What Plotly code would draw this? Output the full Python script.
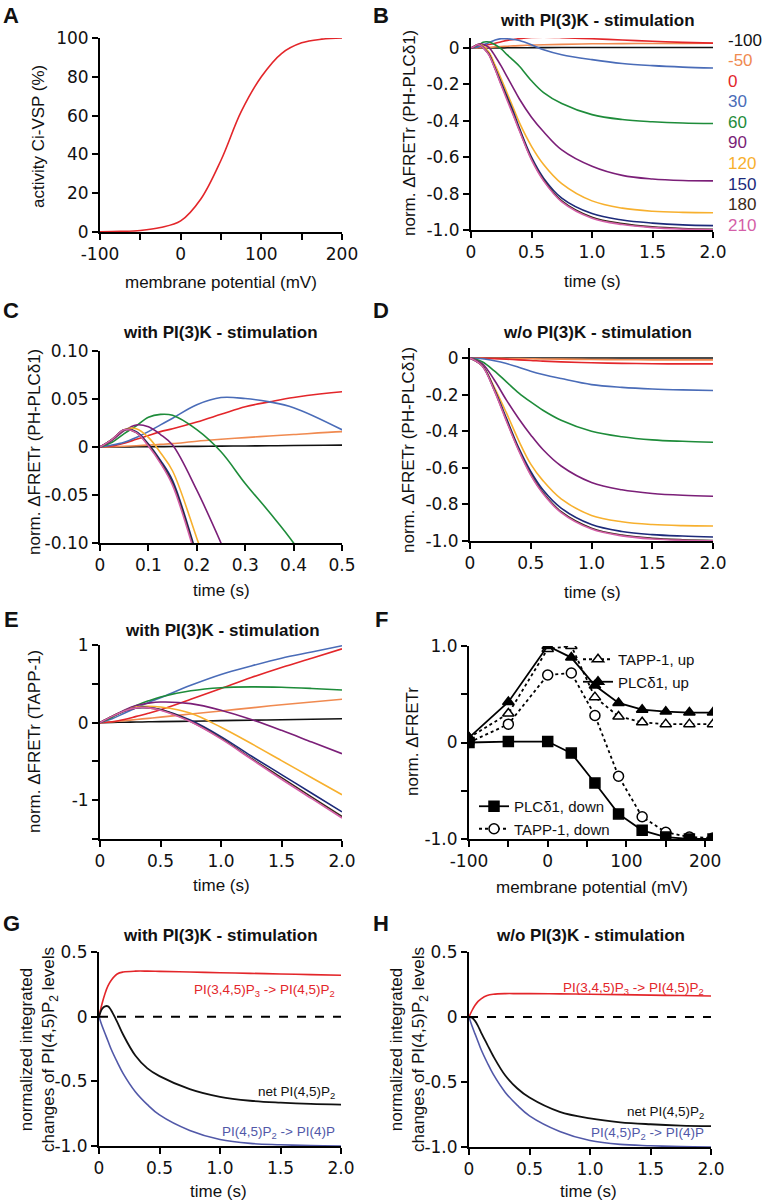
import plotly.graph_objects as go

W, H = 762, 1203
OFF = 0
FONT = "Liberation Sans, Arial, Helvetica, sans-serif"
TICKFONT = "DejaVu Sans, Liberation Sans, Arial, sans-serif"

# ---------------- data ----------------
# Panel A
vm_A = [-100, -75, -50, -25, 0, 25, 50, 75, 100, 125, 150, 175, 200]
act_A = [0.1, 0.3, 0.8, 2.3, 5.7, 17, 37, 62, 80, 92, 97.5, 99.4, 100]

volt_labels = ["-100", "-50", "0", "30", "60", "90", "120", "150", "180", "210"]
volt_colors = ["#111111", "#f08a50", "#e3262a", "#4a6cb8", "#1e8c3a",
               "#7b1f78", "#f7b02e", "#1c2a7a", "#3b2a1a", "#d45fa8"]

# Panels B & C: PH-PLCd1 with PI(3)K
t_BC = [0, 0.025, 0.05, 0.075, 0.1, 0.125, 0.15, 0.2, 0.25, 0.3, 0.35, 0.4,
        0.5, 0.6, 0.75, 1.0, 1.25, 1.5, 1.75, 2.0]
plc_with = {
    "-100": [0, 0, 0.0001, 0.0002, 0.0003, 0.0004, 0.0005, 0.0007, 0.0009, 0.0011,
             0.0013, 0.0015, 0.002, 0.0023, 0.0027, 0.003, 0.003, 0.003, 0.003, 0.003],
    "-50": [0, 0.0003, 0.0008, 0.0013, 0.002, 0.0027, 0.0035, 0.006, 0.008, 0.0098,
            0.0115, 0.013, 0.016, 0.018, 0.020, 0.023, 0.024, 0.025, 0.0255, 0.026],
    "0": [0, 0.001, 0.004, 0.008, 0.012, 0.016, 0.019, 0.026, 0.034, 0.042,
          0.047, 0.0516, 0.0575, 0.059, 0.057, 0.051, 0.044, 0.037, 0.031, 0.027],
    "30": [0, 0.002, 0.005, 0.010, 0.016, 0.023, 0.030, 0.044, 0.0515, 0.0505,
           0.047, 0.041, 0.018, -0.010, -0.037, -0.064, -0.085, -0.097, -0.105, -0.11],
    "60": [0, 0.005, 0.014, 0.022, 0.031, 0.034, 0.033, 0.018, -0.005, -0.038,
           -0.068, -0.10, -0.18, -0.245, -0.305, -0.366, -0.393, -0.405, -0.412, -0.415],
    "90": [0, 0.007, 0.017, 0.023, 0.021, 0.013, 0.002, -0.045, -0.10, -0.16,
           -0.22, -0.28, -0.38, -0.46, -0.56, -0.65, -0.70, -0.72, -0.728, -0.73],
    "120": [0, 0.008, 0.018, 0.019, 0.010, -0.006, -0.025, -0.095, -0.17, -0.25,
            -0.33, -0.41, -0.54, -0.64, -0.745, -0.84, -0.88, -0.897, -0.903, -0.905],
    "150": [0, 0.008, 0.018, 0.016, 0.003, -0.014, -0.035, -0.112, -0.19, -0.27,
            -0.35, -0.44, -0.60, -0.715, -0.825, -0.91, -0.945, -0.962, -0.972, -0.976],
    "180": [0, 0.008, 0.018, 0.015, 0.002, -0.016, -0.038, -0.115, -0.20, -0.28,
            -0.365, -0.45, -0.61, -0.725, -0.84, -0.93, -0.965, -0.983, -0.992, -0.996],
    "210": [0, 0.008, 0.018, 0.015, 0.001, -0.017, -0.040, -0.118, -0.205, -0.29,
            -0.37, -0.455, -0.615, -0.73, -0.845, -0.935, -0.97, -0.987, -0.995, -0.999],
}

# Panel D: PH-PLCd1 without PI(3)K
t_D = [0, 0.1, 0.2, 0.3, 0.4, 0.5, 0.6, 0.75, 1.0, 1.25, 1.5, 1.75, 2.0]
plc_wo = {
    "-100": [0, 0, 0, 0, 0, 0, 0, 0, 0, 0, 0, 0, 0],
    "-50": [0, -0.0005, -0.001, -0.002, -0.003, -0.004, -0.005, -0.006, -0.008, -0.009, -0.01, -0.01, -0.01],
    "0": [0, -0.001, -0.003, -0.006, -0.01, -0.013, -0.017, -0.021, -0.026, -0.029, -0.031, -0.032, -0.032],
    "30": [0, -0.004, -0.015, -0.03, -0.05, -0.072, -0.09, -0.112, -0.145, -0.16, -0.169, -0.174, -0.177],
    "60": [0, -0.02, -0.07, -0.13, -0.19, -0.24, -0.285, -0.34, -0.40, -0.43, -0.447, -0.455, -0.46],
    "90": [0, -0.03, -0.12, -0.23, -0.33, -0.42, -0.50, -0.59, -0.68, -0.72, -0.74, -0.75, -0.755],
    "120": [0, -0.04, -0.16, -0.30, -0.45, -0.58, -0.67, -0.77, -0.86, -0.895, -0.91, -0.916, -0.918],
    "150": [0, -0.04, -0.17, -0.33, -0.49, -0.62, -0.72, -0.82, -0.91, -0.948, -0.965, -0.973, -0.978],
    "180": [0, -0.042, -0.175, -0.34, -0.50, -0.635, -0.735, -0.84, -0.93, -0.968, -0.985, -0.993, -0.997],
    "210": [0, -0.043, -0.178, -0.345, -0.505, -0.64, -0.74, -0.845, -0.935, -0.972, -0.989, -0.996, -0.999],
}

# Panel E: TAPP-1 with PI(3)K
t_E = [0, 0.1, 0.2, 0.3, 0.4, 0.5, 0.75, 1.0, 1.25, 1.5, 1.75, 2.0]
tapp_with = {
    "-100": [0, 0.002, 0.005, 0.007, 0.01, 0.012, 0.018, 0.025, 0.031, 0.037, 0.043, 0.05],
    "-50": [0, 0.01, 0.025, 0.04, 0.055, 0.07, 0.11, 0.15, 0.19, 0.23, 0.265, 0.30],
    "0": [0, 0.01, 0.04, 0.08, 0.12, 0.165, 0.30, 0.44, 0.58, 0.71, 0.83, 0.95],
    "30": [0, 0.05, 0.12, 0.19, 0.26, 0.32, 0.48, 0.62, 0.73, 0.83, 0.91, 0.99],
    "60": [0, 0.07, 0.15, 0.22, 0.28, 0.33, 0.41, 0.45, 0.46, 0.455, 0.44, 0.42],
    "90": [0, 0.08, 0.16, 0.22, 0.25, 0.265, 0.245, 0.16, 0.04, -0.10, -0.25, -0.40],
    "120": [0, 0.08, 0.15, 0.20, 0.21, 0.20, 0.12, -0.06, -0.27, -0.49, -0.71, -0.93],
    "150": [0, 0.08, 0.15, 0.19, 0.195, 0.17, 0.03, -0.18, -0.43, -0.67, -0.91, -1.15],
    "180": [0, 0.08, 0.15, 0.19, 0.19, 0.165, 0.015, -0.20, -0.46, -0.71, -0.96, -1.21],
    "210": [0, 0.08, 0.15, 0.19, 0.19, 0.16, 0.01, -0.21, -0.47, -0.73, -0.98, -1.23],
}

# Panel F: steady-state amplitudes vs membrane potential
vm_F = [-100, -50, 0, 30, 60, 90, 120, 150, 180, 210]
tapp_up = [0.05, 0.30, 0.97, 1.00, 0.47, 0.27, 0.21, 0.19, 0.19, 0.19]
plc_up = [0.05, 0.42, 1.00, 0.88, 0.59, 0.41, 0.34, 0.32, 0.31, 0.31]
plc_down = [0.0, 0.01, 0.01, -0.11, -0.42, -0.74, -0.91, -0.98, -1.0, -1.0]
tapp_down = [0.0, 0.19, 0.70, 0.72, 0.28, -0.35, -0.77, -0.93, -0.98, -0.99]

# Panels G & H: integrated PI(4,5)P2 changes
t_G = [0, 0.025, 0.05, 0.075, 0.1, 0.15, 0.2, 0.3, 0.4, 0.5, 0.75, 1.0, 1.25, 1.5, 1.75, 2.0]
G_pip3 = [0, 0.10, 0.18, 0.24, 0.28, 0.33, 0.345, 0.352, 0.352, 0.35, 0.345, 0.34, 0.335, 0.33, 0.325, 0.32]
G_net = [0, 0.06, 0.08, 0.08, 0.05, -0.04, -0.14, -0.30, -0.40, -0.46, -0.56, -0.62, -0.65, -0.665, -0.675, -0.68]
G_pip2 = [0, -0.07, -0.13, -0.19, -0.25, -0.35, -0.44, -0.58, -0.68, -0.76, -0.88, -0.95, -0.98, -0.99, -0.997, -1.0]
H_pip3 = [0, 0.05, 0.09, 0.12, 0.14, 0.165, 0.175, 0.18, 0.18, 0.18, 0.178, 0.175, 0.172, 0.168, 0.165, 0.162]
H_net = [0, -0.005, -0.03, -0.07, -0.12, -0.21, -0.30, -0.45, -0.55, -0.62, -0.73, -0.78, -0.81, -0.825, -0.835, -0.84]
H_pip2 = G_pip2

# ---------------- helpers ----------------
def px(x):
    return (x - OFF) / W

def py(y):
    return 1 - (y - OFF) / H

fig = go.Figure()
layout = dict(width=W, height=H, margin=dict(l=0, r=0, t=0, b=0, pad=0, autoexpand=False),
              paper_bgcolor="white", plot_bgcolor="white", showlegend=True,
              font=dict(family=FONT, size=15, color="#111"))
annotations = []
shapes = []

def axis_pair(n, xdom, ydom, xr, yr, xtv, xtt, ytv, ytt):
    sx = "" if n == 1 else str(n)
    common = dict(showline=True, linecolor="black", linewidth=2, ticks="outside",
                  ticklen=6, tickwidth=2, tickcolor="black", showgrid=False,
                  zeroline=False, tickfont=dict(family=TICKFONT, size=17, color="#111"),
                  mirror=False, fixedrange=True, automargin=False)
    layout["xaxis" + sx] = dict(domain=[px(xdom[0]), px(xdom[1])], range=xr,
                                anchor="y" + sx, tickmode="array", tickvals=xtv,
                                ticktext=xtt, **common)
    layout["yaxis" + sx] = dict(domain=[py(ydom[1]), py(ydom[0])], range=yr,
                                anchor="x" + sx, tickmode="array", tickvals=ytv,
                                ticktext=ytt, **common)
    return "x" + sx, "y" + sx

def text(x, y, s, size=17, color="#111", bold=False, angle=0, xanchor="center",
         yanchor="middle"):
    if bold:
        s = "<b>" + s + "</b>"
    annotations.append(dict(x=px(x), y=py(y), xref="paper", yref="paper", text=s,
                            showarrow=False, textangle=angle, xanchor=xanchor,
                            yanchor=yanchor, font=dict(family=FONT, size=size, color=color)))

def line(xa, ya, xs, ys, color, width=1.6, dash="solid", name=None, legend=None,
         show=False, marker=None, mode="lines", shape="spline"):
    tr = dict(x=xs, y=ys, xaxis=xa, yaxis=ya, mode=mode,
              line=dict(color=color, width=width, dash=dash, shape=shape),
              showlegend=show, hoverinfo="skip")
    if name:
        tr["name"] = name
    if legend:
        tr["legend"] = legend
    if marker:
        tr["marker"] = marker
    fig.add_trace(go.Scatter(**tr))

time_ticks = [0, 0.5, 1.0, 1.5, 2.0]
time_text = ["0", "0.5", "1.0", "1.5", "2.0"]

# ---------------- Panel A ----------------
xa, ya = axis_pair(1, (100, 342), (38, 232), [-100, 200], [0, 100],
                   [-100, -50, 0, 50, 100, 150, 200], ["-100", "", "0", "", "100", "", "200"],
                   [0, 20, 40, 60, 80, 100], ["0", "20", "40", "60", "80", "100"])
line(xa, ya, vm_A, act_A, "#e3262a")
text(221, 282, "membrane potential (mV)")
text(38, 137, "activity Ci-VSP (%)", angle=-90)

# ---------------- Panel B ----------------
xa, ya = axis_pair(2, (471, 713), (38, 230), [0, 2.0], [-1.0, 0.055],
                   time_ticks, time_text,
                   [0, -0.2, -0.4, -0.6, -0.8, -1.0], ["0", "-0.2", "-0.4", "-0.6", "-0.8", "-1.0"])
for lab, col in zip(volt_labels, volt_colors):
    line(xa, ya, t_BC, plc_with[lab], col)
text(592, 281, "time (s)")
text(410, 133, "norm. ΔFRETr (PH-PLCδ1)", angle=-90)
text(597, 20, "with PI(3)K - stimulation", bold=True)
for i, (lab, col) in enumerate(zip(volt_labels, volt_colors)):
    text(726, 40 + i * 20.6, lab, color=col, xanchor="left")

# ---------------- Panel C ----------------
xa, ya = axis_pair(3, (100, 342), (351, 543), [0, 0.5], [-0.1, 0.1],
                   [0, 0.1, 0.2, 0.3, 0.4, 0.5], ["0", "0.1", "0.2", "0.3", "0.4", "0.5"],
                   [0.1, 0.05, 0, -0.05, -0.1], ["0.10", "0.05", "0", "-0.05", "-0.10"])
for lab, col in zip(volt_labels, volt_colors):
    line(xa, ya, t_BC, plc_with[lab], col)
text(221, 590, "time (s)")
text(34, 452, "norm. ΔFRETr (PH-PLCδ1)", angle=-90)
text(220, 333, "with PI(3)K - stimulation", bold=True)

# ---------------- Panel D ----------------
xa, ya = axis_pair(4, (470, 713), (348, 541), [0, 2.0], [-1.0, 0.055],
                   time_ticks, time_text,
                   [0, -0.2, -0.4, -0.6, -0.8, -1.0], ["0", "-0.2", "-0.4", "-0.6", "-0.8", "-1.0"])
for lab, col in zip(volt_labels, volt_colors):
    line(xa, ya, t_D, plc_wo[lab], col)
text(592, 592, "time (s)")
text(408, 450, "norm. ΔFRETr (PH-PLCδ1)", angle=-90)
text(597, 332, "w/o PI(3)K - stimulation", bold=True)

# ---------------- Panel E ----------------
xa, ya = axis_pair(5, (100, 342), (645, 839), [0, 2.0], [-1.5, 1.0],
                   time_ticks, time_text,
                   [1, 0.5, 0, -0.5, -1, -1.5], ["1", "", "0", "", "-1", ""])
for lab, col in zip(volt_labels, volt_colors):
    line(xa, ya, t_E, tapp_with[lab], col)
text(221, 885, "time (s)")
text(34, 742, "norm. ΔFRETr (TAPP-1)", angle=-90)
text(222, 630, "with PI(3)K - stimulation", bold=True)

# ---------------- Panel F ----------------
xa, ya = axis_pair(6, (469, 713), (646, 839), [-100, 210], [-1.0, 1.0],
                   [-100, -50, 0, 50, 100, 150, 200], ["-100", "", "0", "", "100", "", "200"],
                   [1, 0.5, 0, -0.5, -1], ["1.0", "", "0", "", "-1.0"])
mk = dict(size=10, line=dict(color="black", width=1.5))
line(xa, ya, vm_F, tapp_up, "black", width=1.8, dash="dot", name="TAPP-1, up",
     legend="legend", show=True, mode="lines+markers", shape="linear",
     marker=dict(symbol="triangle-up", color="white", **mk))
line(xa, ya, vm_F, plc_up, "black", width=1.8, name="PLCδ1, up",
     legend="legend", show=True, mode="lines+markers", shape="linear",
     marker=dict(symbol="triangle-up", color="black", **mk))
line(xa, ya, vm_F, tapp_down, "black", width=1.8, dash="dot", name="TAPP-1, down",
     legend="legend2", show=True, mode="lines+markers", shape="linear",
     marker=dict(symbol="circle", color="white", **mk))
line(xa, ya, vm_F, plc_down, "black", width=1.8, name="PLCδ1, down",
     legend="legend2", show=True, mode="lines+markers", shape="linear",
     marker=dict(symbol="square", color="black", **mk))
text(592, 887, "membrane potential (mV)")
text(412, 742, "norm. ΔFRETr", angle=-90)
layout["legend"] = dict(x=px(578), y=py(643), xanchor="left", yanchor="top",
                        bgcolor="rgba(0,0,0,0)", font=dict(family=FONT, size=15, color="#111"),
                        tracegroupgap=0, itemwidth=30)
layout["legend2"] = dict(x=px(474), y=py(790), xanchor="left", yanchor="top",
                         bgcolor="rgba(0,0,0,0)", font=dict(family=FONT, size=15, color="#111"),
                         tracegroupgap=0, itemwidth=30, traceorder="reversed")

# ---------------- Panels G & H ----------------
g_ticks = [0.5, 0, -0.5, -1.0]
g_text = ["0.5", "0", "-0.5", "-1.0"]
for n, xdom, ydom, pip3, net, pip2, title, lab_y, lab_right in [
        (7, (99, 341), (952, 1146), G_pip3, G_net, G_pip2, "with PI(3)K - stimulation",
         (990, 1092, 1132), 337),
        (8, (469, 711), (952, 1147), H_pip3, H_net, H_pip2, "w/o PI(3)K - stimulation",
         (988, 1112, 1133), 706)]:
    xa, ya = axis_pair(n, xdom, ydom, [0, 2.0], [-1.0, 0.5], time_ticks, time_text,
                       g_ticks, g_text)
    shapes.append(dict(type="line", xref=xa + " domain", yref=ya, x0=0, x1=1, y0=0, y1=0,
                       line=dict(color="black", width=2, dash="dash")))
    line(xa, ya, t_G, pip3, "#e3262a")
    line(xa, ya, t_G, pip2, "#5158a8")
    line(xa, ya, t_G, net, "#111111", width=1.8)
    cx = (xdom[0] + xdom[1]) / 2
    text(cx - 2, 1191, "time (s)")
    text(cx, 935, title, bold=True)
    text(xdom[0] - 60, 1050, "normalized integrated<br>changes of PI(4,5)P<sub>2</sub> levels",
         angle=-90)
    text(lab_right, lab_y[0], "PI(3,4,5)P<sub>3</sub> -> PI(4,5)P<sub>2</sub>", size=13.5,
         color="#e3262a", xanchor="right")
    text(lab_right, lab_y[1], "net PI(4,5)P<sub>2</sub>", size=13.5, color="#111",
         xanchor="right")
    text(lab_right, lab_y[2], "PI(4,5)P<sub>2</sub> -> PI(4)P", size=13.5, color="#5158a8",
         xanchor="right")

# ---------------- panel letters ----------------
for lab, x, y in [("A", 11, 15), ("B", 381, 15), ("C", 11, 311), ("D", 381, 311),
                  ("E", 11, 619), ("F", 381, 619), ("G", 11, 923), ("H", 381, 923)]:
    text(x, y, lab, size=22, bold=True)

layout["annotations"] = annotations
layout["shapes"] = shapes
fig.update_layout(**layout)
fig.write_html("out.html", config={"displayModeBar": False},
               post_script="document.body.style.margin='0';document.body.style.overflow='hidden';")
